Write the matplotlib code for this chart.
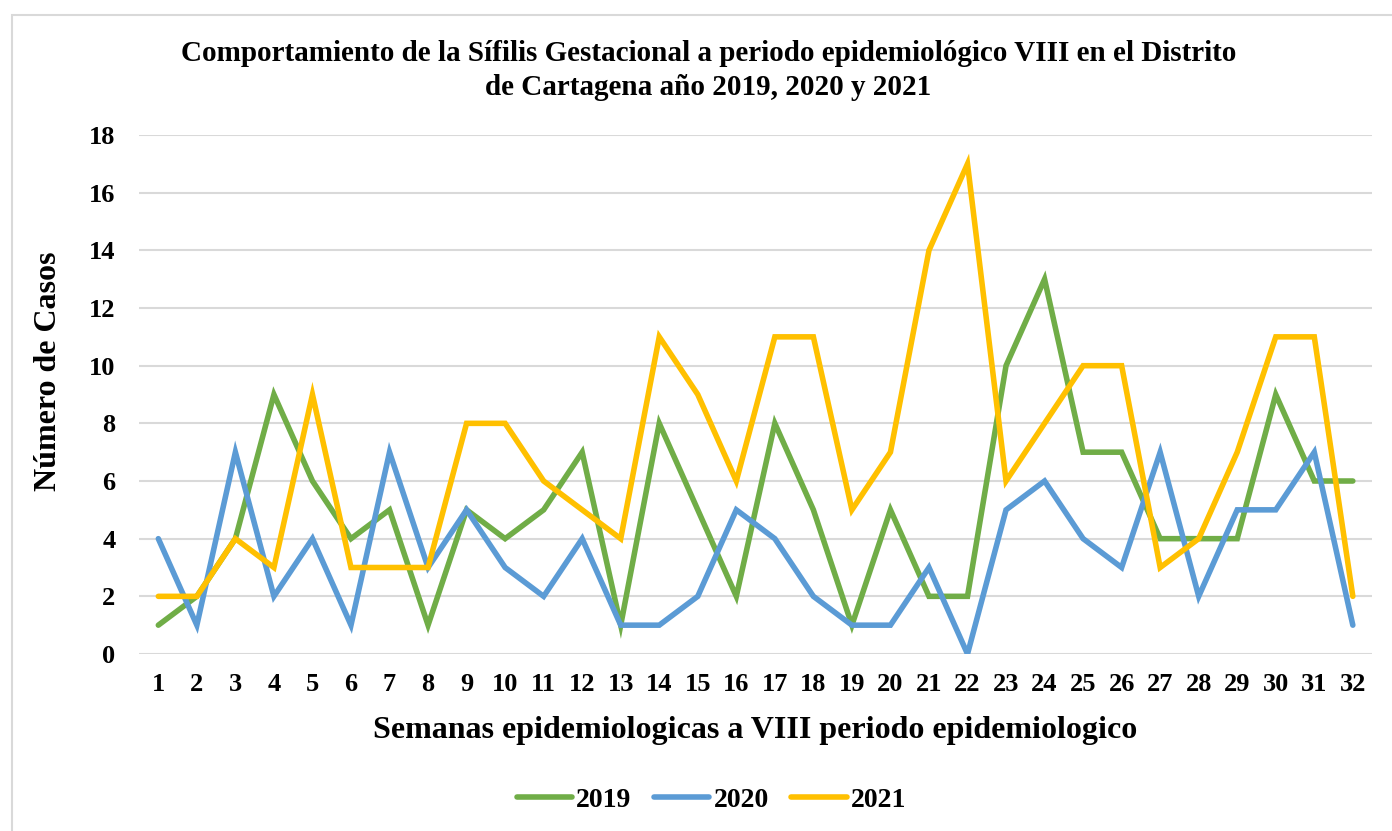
import matplotlib.pyplot as plt
from matplotlib.patches import Rectangle

plt.rcParams['font.family'] = ['Liberation Serif', 'DejaVu Serif']
plt.rcParams['font.weight'] = 'bold'

semanas = list(range(1, 33))
casos_2019 = [1, 2, 4, 9, 6, 4, 5, 1, 5, 4, 5, 7, 1, 8, 5, 2,
              8, 5, 1, 5, 2, 2, 10, 13, 7, 7, 4, 4, 4, 9, 6, 6]
casos_2020 = [4, 1, 7, 2, 4, 1, 7, 3, 5, 3, 2, 4, 1, 1, 2, 5,
              4, 2, 1, 1, 3, 0, 5, 6, 4, 3, 7, 2, 5, 5, 7, 1]
casos_2021 = [2, 2, 4, 3, 9, 3, 3, 3, 8, 8, 6, 5, 4, 11, 9, 6,
              11, 11, 5, 7, 14, 17, 6, 8, 10, 10, 3, 4, 7, 11, 11, 2]

series = [('2019', casos_2019, '#70ad47'),
          ('2020', casos_2020, '#5b9bd5'),
          ('2021', casos_2021, '#ffc000')]

fig = plt.figure(figsize=(13.92, 8.31), dpi=100)
ax = fig.add_axes([0.0999, 0.213, 0.8858, 0.6245])

# outer chart border
fig.patches.append(Rectangle((12 / 1392, -0.1), 1.2, 1 - 15 / 831 + 0.1,
                             transform=fig.transFigure, fill=False,
                             edgecolor='#d9d9d9', linewidth=1.5))

for name, vals, col in series:
    ax.plot(semanas, vals, color=col, linewidth=4, label=name,
            solid_capstyle='round', solid_joinstyle='miter')

ax.set_xlim(0.5, 32.5)
ax.set_ylim(0, 18)
ax.set_yticks(range(0, 19, 2))
ax.set_xticks(semanas)
ax.grid(axis='y', color='#d9d9d9', linewidth=1.5)
ax.set_axisbelow(True)
for s in ax.spines.values():
    s.set_visible(False)
ax.tick_params(length=0, labelsize=19)
ax.tick_params(axis='x', pad=14)
ax.tick_params(axis='y', pad=17)

ax.set_xlabel('Semanas epidemiologicas a VIII periodo epidemiologico',
              fontsize=23, fontweight='bold', labelpad=14)
ax.set_ylabel('Número de Casos', fontsize=23, fontweight='bold')
ax.yaxis.set_label_coords(-0.062, 0.545)

fig.text(0.509, 0.915,
         'Comportamiento de la Sífilis Gestacional a periodo epidemiológico VIII en el Distrito\n'
         'de Cartagena año 2019, 2020 y 2021',
         ha='center', va='center', fontsize=21, fontweight='bold', linespacing=1.32)

fig.legend(loc='center', bbox_to_anchor=(0.511, 0.037), ncol=3, frameon=False,
           fontsize=20, handlelength=2.0, handletextpad=0.15, columnspacing=0.8)

fig.savefig('out.png', dpi=100)
